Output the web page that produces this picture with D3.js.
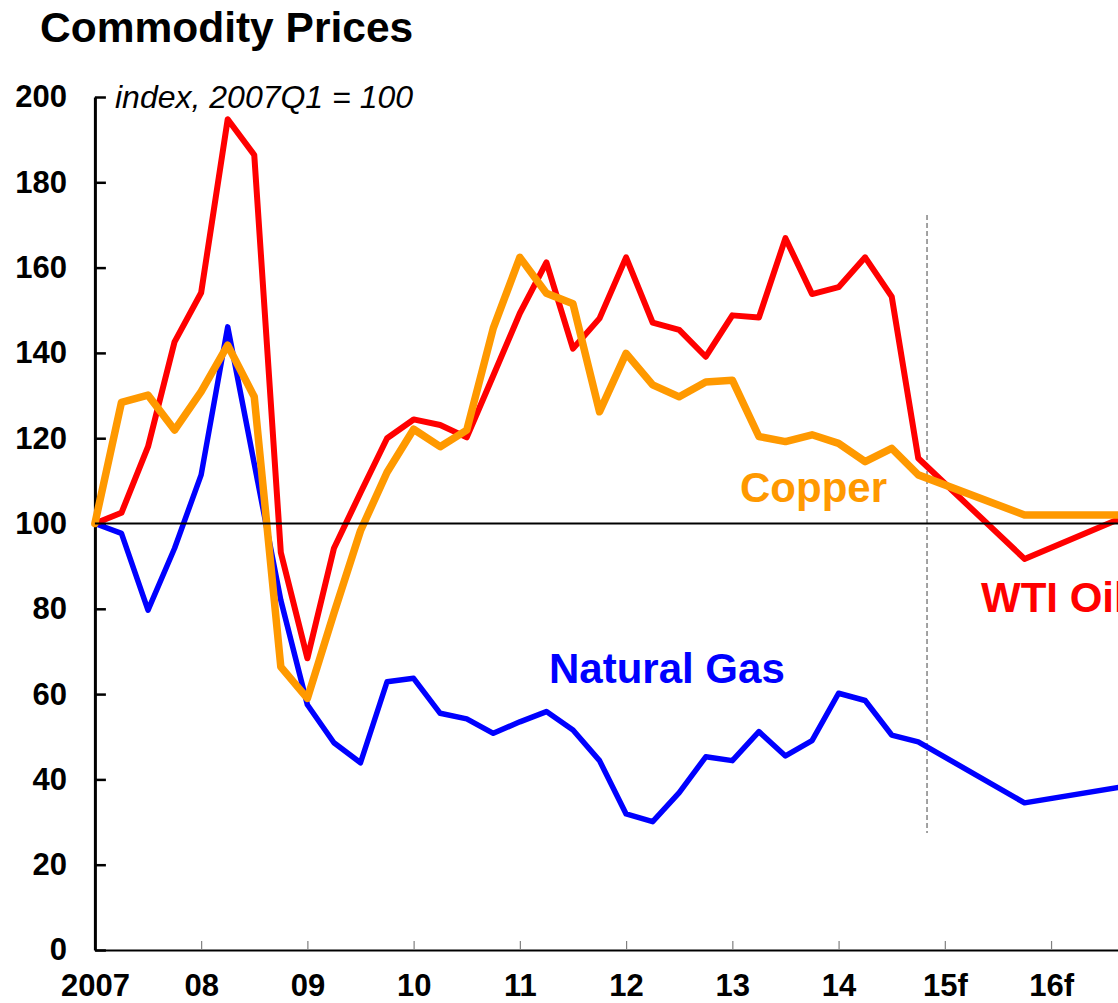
<!DOCTYPE html>
<html>
<head>
<meta charset="utf-8">
<script src="https://cdn.jsdelivr.net/npm/d3@7"></script>
<style>
  html, body { margin: 0; padding: 0; background: #fff; }
  svg { display: block; font-family: "Liberation Sans", Arial, sans-serif; }
</style>
</head>
<body>
<svg id="chart" width="1118" height="1003"></svg>
<script>
// Quarter index 0 = 2007Q1; null = quarter not plotted (forecast path goes straight through)
const yearLabels = ["2007", "08", "09", "10", "11", "12", "13", "14", "15f", "16f"];
const yTicks = [0, 20, 40, 60, 80, 100, 120, 140, 160, 180, 200];

const wtiOil = [100, 102.5, 118, 142.6, 154.1, 194.8, 186.4, 93.2, 68.4, 94.2,
  107.2, 120, 124.4, 123.1, 120.2, 134.7, 149.3, 161.2, 141, 148.1,
  162.4, 147.1, 145.4, 139.1, 148.8, 148.3, 166.9, 153.8, 155.4, 162.4,
  153.2, 115.3, null, null, null, 91.7, null, null, null, 102.2];

const copper = [100, 128.4, 130.1, 121.9, 130.9, 141.8, 129.7, 66.4, 59, 79,
  98.3, 112, 122.1, 118, 121.9, 145.8, 162.4, 154, 151.5, 126.2,
  139.9, 132.5, 129.7, 133.2, 133.6, 120.4, 119.2, 120.8, 118.8, 114.5,
  117.6, 111.4, null, null, null, 102, null, null, null, 102];

const naturalGas = [100, 97.7, 79.7, 94.2, 111.4, 146.1, 114, 82, 57.5, 48.6,
  43.9, 62.9, 63.7, 55.5, 54.2, 50.8, 53.5, 55.9, 51.6, 44.4,
  31.9, 30.1, 36.9, 45.3, 44.4, 51.2, 45.5, 49.1, 60.2, 58.5,
  50.4, 48.8, null, null, null, 34.5, null, null, null, 38.6];

const forecastStart = 31.33; // quarter position of the dashed divider

const svg = d3.select("#chart");
const x = d3.scaleLinear().domain([0, 40]).range([94.9, 94.9 + 40 * 26.56]);
const y = d3.scaleLinear().domain([0, 200]).range([950, 97]);

// Title
svg.append("text").attr("x", 40).attr("y", 42)
  .attr("font-size", 42.5).attr("font-weight", "bold").attr("fill", "#000")
  .text("Commodity Prices");

// Subtitle
svg.append("text").attr("x", 115).attr("y", 108)
  .attr("font-size", 32).attr("font-style", "italic").attr("fill", "#000")
  .text("index, 2007Q1 = 100");

// X axis
const xAxis = d3.axisBottom(x)
  .tickValues(yearLabels.map((d, i) => i * 4))
  .tickFormat((d, i) => yearLabels[i])
  .tickSizeInner(-9).tickSizeOuter(0).tickPadding(24);
const gx = svg.append("g").attr("transform", `translate(0,${y(0)})`).call(xAxis);
gx.select(".domain").attr("stroke", "#000").attr("stroke-width", 2);
gx.selectAll(".tick line").attr("stroke", "#808080").attr("stroke-width", 1.2);
gx.selectAll(".tick text").attr("font-size", 31).attr("font-weight", "bold")
  .attr("fill", "#000").attr("font-family", "Liberation Sans, Arial, sans-serif");

// Y axis
const yAxis = d3.axisLeft(y).tickValues(yTicks)
  .tickSizeInner(-11).tickSizeOuter(0).tickPadding(28);
const gy = svg.append("g").attr("transform", `translate(${x(0)},0)`).call(yAxis);
gy.select(".domain").attr("stroke", "#000").attr("stroke-width", 3);
gy.selectAll(".tick line").attr("stroke", "#000").attr("stroke-width", 2.5);
gy.selectAll(".tick text").attr("font-size", 31).attr("font-weight", "bold")
  .attr("fill", "#000").attr("font-family", "Liberation Sans, Arial, sans-serif");

// Forecast divider
svg.append("line")
  .attr("x1", x(forecastStart)).attr("x2", x(forecastStart))
  .attr("y1", 215).attr("y2", 833)
  .attr("stroke", "#8c8c8c").attr("stroke-width", 1.6)
  .attr("stroke-dasharray", "5,3");

// Lines
const line = d3.line().x(d => x(d[0])).y(d => y(d[1]));
function pts(arr) { return arr.map((v, i) => [i, v]).filter(d => d[1] !== null); }

const series = [
  { data: naturalGas, color: "#0000FF", width: 5.5 },
  { data: wtiOil, color: "#FF0000", width: 6 },
  { data: copper, color: "#FF9900", width: 7.5 }
];
series.forEach(s => {
  svg.append("path").datum(pts(s.data))
    .attr("d", line).attr("fill", "none")
    .attr("stroke", s.color).attr("stroke-width", s.width)
    .attr("stroke-linejoin", "round").attr("stroke-linecap", "round");
});

// Reference line at 100
svg.append("line")
  .attr("x1", x(0)).attr("x2", 1118)
  .attr("y1", y(100)).attr("y2", y(100))
  .attr("stroke", "#000").attr("stroke-width", 2);

// Series labels
svg.append("text").attr("x", 740).attr("y", 502)
  .attr("font-size", 42).attr("font-weight", "bold").attr("fill", "#FF9900")
  .text("Copper");
svg.append("text").attr("x", 981).attr("y", 612)
  .attr("font-size", 42).attr("font-weight", "bold").attr("fill", "#FF0000")
  .text("WTI Oil");
svg.append("text").attr("x", 549).attr("y", 683)
  .attr("font-size", 42).attr("font-weight", "bold").attr("fill", "#0000FF")
  .text("Natural Gas");
</script>
</body>
</html>
